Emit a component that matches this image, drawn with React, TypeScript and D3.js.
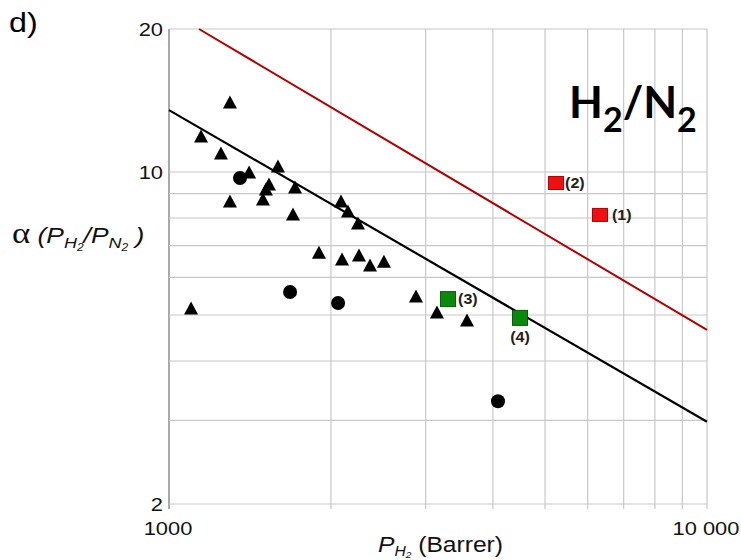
import React from "react";
import * as d3 from "d3";

// ---- data ----
const xDomain = [1000, 10000];
const yDomain = [2, 20];
const xGridValues = [1000, 2000, 3000, 4000, 5000, 6000, 7000, 8000, 9000, 10000];
const yGridValues = [2, 3, 4, 5, 6, 7, 8, 9, 10, 20];
const xTickValues = [1000, 10000];
const xTickLabels = ["1000", "10 000"];
const yTickValues = [20, 10, 2];
const yTickLabels = ["20", "10", "2"];

// triangles: [P_H2, alpha]
const triangles: [number, number][] = [
  [1298, 14.04], [1147, 11.9], [1249, 10.97], [1409, 10.0], [1594, 10.29],
  [1534, 9.43], [1514, 9.21], [1715, 9.3], [1298, 8.69], [1495, 8.77],
  [1700, 8.16], [2088, 8.69], [2151, 8.28], [2245, 7.81], [1900, 6.78],
  [2097, 6.56], [2255, 6.69], [2364, 6.37], [2509, 6.49], [1099, 5.17],
  [2878, 5.48], [3148, 5.07], [3580, 4.88],
];
// circles
const circles: [number, number][] = [
  [1355, 9.71], [1679, 5.59], [2062, 5.3], [4088, 3.29],
];
// green squares
const greenSquares = [
  { p: 3301, a: 5.4, label: "(3)" },
  { p: 4492, a: 4.93, label: "(4)" },
];
// red squares
const redSquares = [
  { p: 5241, a: 9.48, label: "(2)" },
  { p: 6326, a: 8.12, label: "(1)" },
];
// upper bounds
const blackLine: [number, number][] = [[1000, 13.5], [10000, 2.98]];
const redLine: [number, number][] = [[1137, 20], [10000, 4.65]];

const SX = 1.15;

function ST({ x, y, anchor = "start", children, ...rest }: any) {
  return (
    <g transform={`translate(${x},${y}) scale(${SX},1)`}>
      <text textAnchor={anchor} {...rest}>{children}</text>
    </g>
  );
}

export default function App() {
  const L = 169, R = 707, T = 29, B = 504;
  const x = d3.scaleLog().domain(xDomain).range([L, R]);
  const y = d3.scaleLog().domain(yDomain).range([B, T]);
  const line = d3.line<[number, number]>().x((d) => x(d[0])).y((d) => y(d[1]));
  const tri = (cx: number, cy: number) =>
    `M${cx - 7},${cy + 6.5}L${cx + 7},${cy + 6.5}L${cx},${cy - 6.5}Z`;
  const sans = "Liberation Sans, Arial, sans-serif";

  return (
    <svg width={741} height={560} style={{ position: "absolute", left: 0, top: 0, background: "#fff" }} fontFamily={sans}>
      <rect x={0} y={0} width={741} height={560} fill="#fff" />
      {/* grid */}
      {xGridValues.map((v) => (
        <line key={"xg" + v} x1={x(v)} x2={x(v)} y1={T} y2={B + 5} stroke={v === 1000 ? "#8c8c8c" : "#c8c8c8"} strokeWidth={v === 1000 ? 1.5 : 1.2} />
      ))}
      {yGridValues.map((v) => (
        <line key={"yg" + v} x1={L} x2={R} y1={y(v)} y2={y(v)} stroke="#c8c8c8" strokeWidth={1.2} />
      ))}
      {/* tick labels */}
      {yTickValues.map((v, i) => (
        <ST key={"yt" + v} x={163} y={y(v) + 7} anchor="end" fontSize={19} fill="#111">{yTickLabels[i]}</ST>
      ))}
      {xTickValues.map((v, i) => (
        <ST key={"xt" + v} x={x(v) - 1} y={535} anchor="middle" fontSize={19} fill="#111">{xTickLabels[i]}</ST>
      ))}
      {/* bound lines */}
      <path d={line(redLine) || ""} stroke="#b40000" strokeWidth={2} fill="none" />
      <path d={line(blackLine) || ""} stroke="#000" strokeWidth={2.2} fill="none" />
      {/* markers */}
      {triangles.map((d, i) => (
        <path key={"t" + i} d={tri(x(d[0]), y(d[1]))} fill="#000" />
      ))}
      {circles.map((d, i) => (
        <circle key={"c" + i} cx={x(d[0])} cy={y(d[1])} r={7} fill="#000" />
      ))}
      {greenSquares.map((d, i) => (
        <rect key={"g" + i} x={x(d.p) - 7.5} y={y(d.a) - 7.5} width={15} height={15} fill="#0a8a0a" stroke="#0b5a0b" strokeWidth={1} />
      ))}
      {redSquares.map((d, i) => (
        <rect key={"r" + i} x={x(d.p) - 7.5} y={y(d.a) - 6.5} width={15} height={13} fill="#ee1111" stroke="#b80000" strokeWidth={1} />
      ))}
      {/* square labels */}
      <ST x={x(greenSquares[0].p) + 10} y={y(greenSquares[0].a) + 5} fontSize={14} fontWeight="bold" fill="#222">{greenSquares[0].label}</ST>
      <ST x={x(greenSquares[1].p)} y={y(greenSquares[1].a) + 24} anchor="middle" fontSize={14} fontWeight="bold" fill="#222">{greenSquares[1].label}</ST>
      <ST x={x(redSquares[0].p) + 9} y={y(redSquares[0].a) + 5} fontSize={14} fontWeight="bold" fill="#222">{redSquares[0].label}</ST>
      <ST x={x(redSquares[1].p) + 12} y={y(redSquares[1].a) + 5} fontSize={14} fontWeight="bold" fill="#222">{redSquares[1].label}</ST>
      {/* title H2/N2 */}
      <text x={569} y={118} fontFamily="Lato, sans-serif" fontWeight="bold" fontSize={44} fill="#000">
        H<tspan fontSize={34} dy={14}>2</tspan><tspan dy={-14}>/N</tspan><tspan fontSize={34} dy={14}>2</tspan>
      </text>
      {/* panel letter */}
      <ST x={9} y={32} fontSize={28} fill="#000">d)</ST>
      {/* y axis label */}
      <g transform={`translate(12,243) scale(1.2,1)`}>
        <text fontSize={22} fill="#111">
          <tspan fontFamily="Liberation Serif, serif" fontSize={29}>α</tspan>
          <tspan fontStyle="italic"> (P</tspan>
          <tspan fontStyle="italic" fontSize={15} dy={5}>H</tspan>
          <tspan fontStyle="italic" fontSize={10} dy={3}>2</tspan>
          <tspan fontStyle="italic" dy={-8}>/P</tspan>
          <tspan fontStyle="italic" fontSize={15} dy={5}>N</tspan>
          <tspan fontStyle="italic" fontSize={10} dy={3}>2</tspan>
          <tspan fontStyle="italic" dy={-8}> )</tspan>
        </text>
      </g>
      {/* x axis label */}
      <g transform={`translate(378,552) scale(1.12,1)`}>
        <text fontSize={22} fill="#111">
          <tspan fontStyle="italic">P</tspan>
          <tspan fontStyle="italic" fontSize={14} dy={4}>H</tspan>
          <tspan fontStyle="italic" fontSize={9} dy={2}>2</tspan>
          <tspan dy={-6}> (Barrer)</tspan>
        </text>
      </g>
    </svg>
  );
}
